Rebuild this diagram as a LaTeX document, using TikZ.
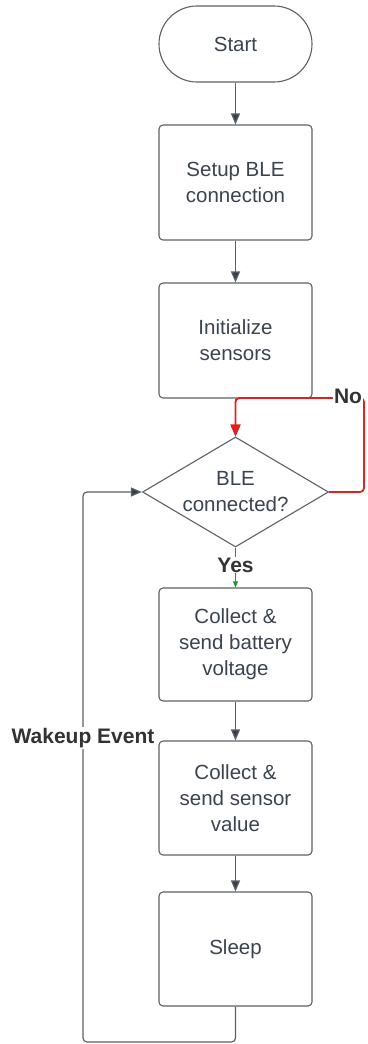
\documentclass[tikz,border=0pt]{standalone}
\usepackage{fontspec}
\setmainfont{Liberation Sans}
\usetikzlibrary{shapes.geometric,arrows.meta}
\definecolor{edge}{HTML}{5C6068}
\definecolor{ink}{HTML}{3B4250}
\definecolor{tip}{HTML}{3A3F47}
\definecolor{noline}{HTML}{E3201B}
\definecolor{yesline}{HTML}{1E9A1E}
\tikzset{
  every node/.style={text=ink, font=\fontsize{20.5}{26}\selectfont, align=center},
  stepbox/.style={draw=edge, line width=1.1pt, rounded corners=4pt,
    minimum width=153pt, inner sep=0pt},
  termbox/.style={draw=edge, line width=1.1pt, rounded corners=38pt,
    minimum width=153pt, minimum height=76pt, inner sep=0pt},
  decision/.style={draw=edge, line width=1.1pt, diamond, aspect=1.69,
    minimum width=186pt, minimum height=110pt, inner sep=0pt},
  flow/.style={draw=edge, line width=1.2pt, -{Triangle[length=11pt,width=9pt,fill=tip]}},
  tag/.style={font=\bfseries\fontsize{21}{24}\selectfont, text=black!80, fill=white, inner sep=1pt}
}
\begin{document}
\begin{tikzpicture}[x=1pt,y=-1pt]
\useasboundingbox (0,0) rectangle (367,1044);

\node[termbox] (start) at (235.5,44) {Start};
\node[stepbox, minimum height=115pt] (setup) at (235.5,182.5) {Setup BLE\\connection};
\node[stepbox, minimum height=115pt] (init) at (235.5,340.5) {Initialize\\sensors};
\node[decision] (ble) at (235.5,492) {BLE\\connected?};
\node[stepbox, minimum height=113pt] (batt) at (235.5,644.5) {Collect \&\\send battery\\voltage};
\node[stepbox, minimum height=114pt] (sens) at (235.5,798) {Collect \&\\send sensor\\value};
\node[stepbox, minimum height=114pt] (sleep) at (235.5,949) {Sleep};

\coordinate (nocorner) at (364,398);
\coordinate (loopbottom) at (83,1042);

\draw[flow] (start) -- (setup);
\draw[flow] (setup) -- (init);
\draw[flow] (init) -- (ble);
\draw[flow] (batt) -- (sens);
\draw[flow] (sens) -- (sleep);

% "No" branch back to the top of the decision
\draw[draw=noline, line width=1.8pt, rounded corners=4pt,
      -{Triangle[length=12pt,width=10pt,fill=noline]}]
  (ble.east) -| (nocorner) -| (ble.north);
\node[tag] at (348,396) {No};

% "Yes" branch
\draw[draw=yesline, line width=1.1pt, -{Triangle[length=6pt,width=5pt,fill=yesline]}]
  (ble.south) -- (batt.north);
\node[tag] at (235.5,565) {Yes};

% wake-up loop from Sleep back to the decision
\draw[flow, rounded corners=4pt]
  (sleep.south) |- (loopbottom) |- (ble.west);
\node[tag] at (83,738) {Wakeup Event};
\end{tikzpicture}
\end{document}
